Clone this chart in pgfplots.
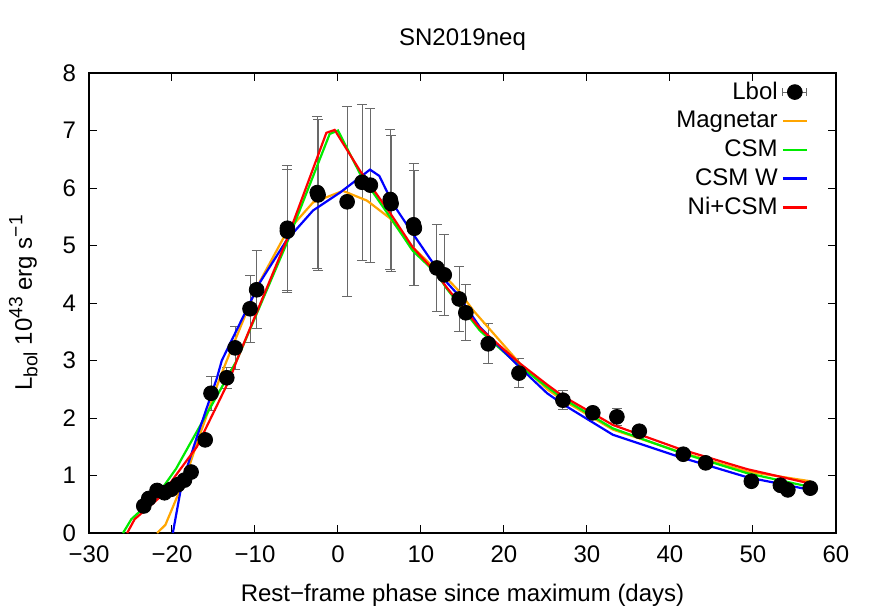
\documentclass[border=0pt]{standalone}
\usepackage{fontspec}
\setmainfont{Liberation Sans}
\usepackage{pgfplots}
\pgfplotsset{compat=1.18}

\definecolor{gporange}{RGB}{255,165,0}
\definecolor{gpgreen}{RGB}{0,235,0}
\definecolor{gpblue}{RGB}{0,0,255}
\definecolor{gpred}{RGB}{255,0,0}
\definecolor{errgray}{RGB}{105,105,105}

\pgfplotsset{shortline/.style={legend image code/.code={\draw[##1, line width=1.1pt] (0pt,0pt)--(12pt,0pt);}}}
\newcommand{\gpsup}[1]{\raisebox{0.75ex}{\fontsize{9.6}{10}\selectfont #1}}
\newcommand{\gpsub}[1]{\raisebox{-0.45ex}{\fontsize{9.6}{10}\selectfont #1}}

\begin{document}
\begin{tikzpicture}
\path[use as bounding box] (-44.5pt,-38.5pt) rectangle (391.5pt,266.5pt);
\begin{axis}[
    at={(0pt,0pt)}, anchor=south west,
    scale only axis,
    width=373.5pt, height=230pt,
    font=\fontsize{12}{14}\selectfont,
    xmin=-30, xmax=60, ymin=0, ymax=8,
    xtick={-30,-20,...,60},
    xticklabels={−30,−20,−10,0,10,20,30,40,50,60},
    ytick={0,1,...,8},
    tick align=inside,
    major tick length=4pt,
    axis line style={line width=0.6pt},
    every tick/.style={black, line width=0.5pt},
    /pgf/number format/assume math mode=true,
    xticklabel style={yshift=-3pt},
    yticklabel style={xshift=-3pt},
    title={SN2019neq},
    title style={at={(axis description cs:0.5,1.072)}, anchor=center, yshift=-6pt},
    xlabel={Rest−frame phase since maximum (days)},
    xlabel style={at={(axis description cs:0.5,-0.135)}, anchor=center},
    ylabel={L\gpsub{bol} 10\gpsup{43} erg s\gpsup{−1}},
    ylabel style={at={(axis description cs:-0.088,0.5)}, anchor=center},
    legend plot pos=right,
    legend cell align=right,
    legend style={draw=none, fill=none, at={(axis description cs:0.971,0.999)},
        anchor=north east, row sep=0.5pt, font=\fontsize{12}{14}\selectfont},
  ]
  % bolometric light curve
  \addplot[only marks, mark=*, mark size=3.7pt, black,
      error bars/.cd, y dir=both, y explicit,
      error bar style={errgray, line width=0.5pt},
      error mark options={errgray, rotate=90, mark size=2.5pt, line width=0.5pt},
      /pgfplots/legend image code/.code={
        \draw[errgray, line width=0.5pt] (0pt,0pt)--(12pt,0pt) (0pt,-2pt)--(0pt,2pt) (12pt,-2pt)--(12pt,2pt);
        \fill[black] (6pt,0pt) circle (3.7pt);}]
    table[x=x, y=y, y error=e] {
      x     y     e
      -23.4 0.47  0.04
      -22.8 0.60  0.04
      -21.8 0.74  0.04
      -20.9 0.70  0.04
      -20.1 0.76  0.04
      -19.3 0.84  0.04
      -18.5 0.92  0.05
      -17.7 1.06  0.05
      -16.0 1.62  0.08
      -15.3 2.43  0.30
      -13.4 2.70  0.18
      -12.4 3.22  0.37
      -10.6 3.90  0.58
      -9.8  4.23  0.68
      -6.1  5.30  1.09
      -6.1  5.25  1.07
      -2.5  5.92  1.32
      -2.4  5.88  1.31
      1.1   5.76  1.65
      2.9   6.10  1.36
      3.9   6.05  1.34
      6.3   5.80  1.21
      6.4   5.73  1.18
      9.1   5.36  1.06
      9.2   5.30  1.00
      11.9  4.61  0.75
      12.8  4.49  0.70
      14.6  4.07  0.57
      15.4  3.83  0.49
      18.1  3.29  0.35
      21.8  2.78  0.25
      27.1  2.31  0.16
      30.7  2.09  0.08
      33.6  2.02  0.15
      36.3  1.77  0.07
      41.6  1.37  0.07
      44.3  1.22  0.07
      49.8  0.90  0.05
      53.3  0.83  0.05
      54.2  0.75  0.05
      56.9  0.78  0.05
    };
  \addlegendentry{Lbol}
  % magnetar model
  \addplot[gporange, line width=1.1pt, shortline] coordinates {
    (-21.8,0.00) (-20.8,0.14) (-19.9,0.45) (-18.2,1.04) (-17.0,1.56)
    (-14.2,2.71) (-13.4,3.00) (-9.8,4.27) (-6.2,5.23) (-3.0,5.75)
    (0.6,5.95) (3.5,5.78) (6.3,5.47) (9.0,4.97) (11.9,4.57) (13.1,4.43)
    (14.5,4.22) (16.3,3.87) (21.9,2.95) (25.2,2.50) (27.1,2.31)
    (33.1,1.80) (41.2,1.41) (49.3,1.07) (56.9,0.90)
  };
  \addlegendentry{Magnetar}
  % CSM model
  \addplot[gpgreen, line width=1.1pt, shortline] coordinates {
    (-25.9,0.00) (-24.9,0.24) (-21.8,0.65) (-19.5,1.12) (-17.8,1.56)
    (-13.4,2.69) (-12.2,3.00) (-6.2,5.03) (-1.0,6.94) (0.0,7.00)
    (2.65,6.25) (6.3,5.49) (9.0,4.91) (11.9,4.51) (13.1,4.25)
    (17.1,3.52) (21.9,2.90) (25.2,2.54) (27.1,2.34) (33.1,1.82)
    (41.2,1.40) (49.3,1.04) (56.3,0.82)
  };
  \addlegendentry{CSM}
  % CSM W model
  \addplot[gpblue, line width=1.1pt, shortline] coordinates {
    (-19.9,0.00) (-18.8,0.87) (-17.0,1.67) (-14.6,2.69) (-14.0,3.00)
    (-9.4,4.36) (-6.2,5.09) (-3.0,5.61) (0.24,5.92) (3.86,6.32)
    (4.98,6.21) (6.6,5.73) (9.0,5.21) (11.9,4.60) (13.1,4.36)
    (14.3,4.17) (17.1,3.58) (21.9,2.88) (25.2,2.43) (27.1,2.24)
    (33.1,1.71) (41.2,1.32) (49.3,0.97) (56.9,0.75)
  };
  \addlegendentry{CSM W}
  % Ni+CSM model
  \addplot[gpred, line width=1.1pt, shortline] coordinates {
    (-25.4,0.00) (-24.5,0.24) (-21.4,0.63) (-19.3,1.05) (-17.0,1.50)
    (-13.0,2.69) (-12.2,3.00) (-6.2,5.09) (-1.4,6.96) (-0.4,7.01)
    (2.65,6.30) (6.3,5.56) (9.0,4.97) (11.9,4.51) (13.1,4.27)
    (17.1,3.56) (21.9,2.95) (25.2,2.58) (27.1,2.38) (33.1,1.88)
    (41.2,1.46) (49.3,1.11) (56.6,0.87)
  };
  \addlegendentry{Ni+CSM}
\end{axis}
\end{tikzpicture}
\end{document}
